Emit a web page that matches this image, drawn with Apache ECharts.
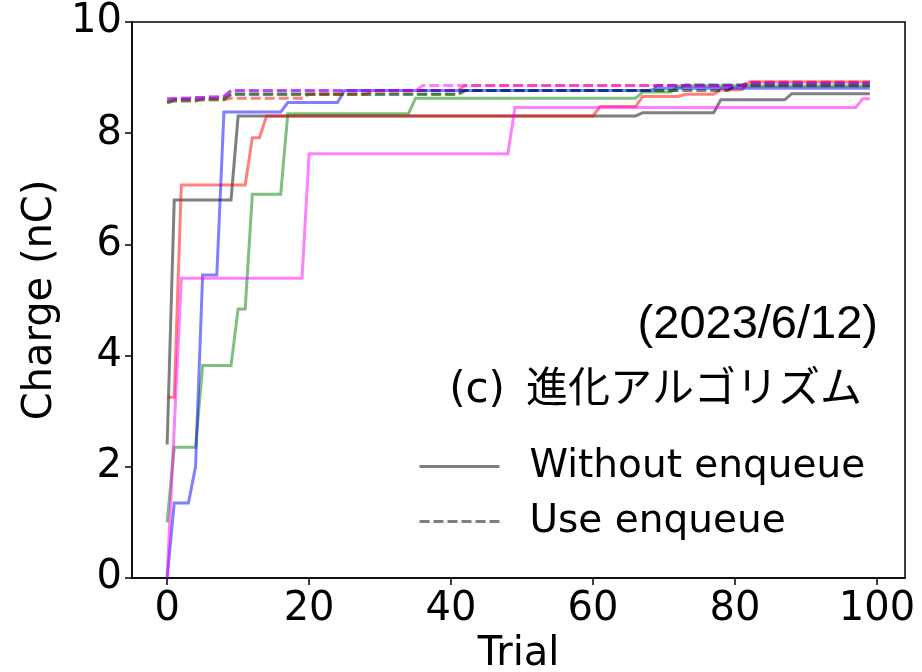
<!DOCTYPE html>
<html>
<head>
<meta charset="utf-8">
<script src="https://cdn.jsdelivr.net/npm/echarts@6/dist/echarts.min.js"></script>
<style>html,body{margin:0;padding:0;background:#fff}#c{width:922px;height:672px}</style>
</head>
<body>
<div id="c"></div>
<script>
// x tick labels and y range
const xTicks = [0, 20, 40, 60, 80, 100];
const legendNames = ['Without enqueue', 'Use enqueue'];

// Solid lines (Without enqueue), one value per trial 0..99
const graySolid = [
  2.4, 6.8, 6.8, 6.8, 6.8, 6.8, 6.8, 6.8, 6.8, 6.8,
  8.31, 8.31, 8.31, 8.31, 8.31, 8.31, 8.31, 8.31, 8.31, 8.31,
  8.31, 8.31, 8.31, 8.31, 8.31, 8.31, 8.31, 8.31, 8.31, 8.31,
  8.31, 8.31, 8.31, 8.31, 8.31, 8.31, 8.31, 8.31, 8.31, 8.31,
  8.31, 8.31, 8.31, 8.31, 8.31, 8.31, 8.31, 8.31, 8.31, 8.31,
  8.31, 8.31, 8.31, 8.31, 8.31, 8.31, 8.31, 8.31, 8.31, 8.31,
  8.31, 8.31, 8.31, 8.31, 8.31, 8.31, 8.31, 8.37, 8.37, 8.37,
  8.37, 8.37, 8.37, 8.37, 8.37, 8.37, 8.37, 8.37, 8.6, 8.6,
  8.6, 8.6, 8.6, 8.6, 8.6, 8.6, 8.6, 8.6, 8.71, 8.71,
  8.71, 8.71, 8.71, 8.71, 8.71, 8.71, 8.71, 8.71, 8.71, 8.71
];
const redSolid = [
  3.25, 3.25, 7.07, 7.07, 7.07, 7.07, 7.07, 7.07, 7.07, 7.07,
  7.07, 7.07, 7.92, 7.92, 8.31, 8.31, 8.31, 8.31, 8.31, 8.31,
  8.31, 8.31, 8.31, 8.31, 8.31, 8.31, 8.31, 8.31, 8.31, 8.31,
  8.31, 8.31, 8.31, 8.31, 8.31, 8.31, 8.31, 8.31, 8.31, 8.31,
  8.31, 8.31, 8.31, 8.31, 8.31, 8.31, 8.31, 8.31, 8.31, 8.31,
  8.31, 8.31, 8.31, 8.31, 8.31, 8.31, 8.31, 8.31, 8.31, 8.31,
  8.31, 8.48, 8.48, 8.48, 8.48, 8.48, 8.48, 8.66, 8.66, 8.66,
  8.66, 8.66, 8.66, 8.70, 8.70, 8.70, 8.70, 8.70, 8.78, 8.78,
  8.78, 8.78, 8.92, 8.92, 8.92, 8.92, 8.92, 8.92, 8.92, 8.92,
  8.92, 8.92, 8.92, 8.92, 8.92, 8.92, 8.92, 8.92, 8.92, 8.92
];
const blueSolid = [
  0, 1.35, 1.35, 1.35, 2.0, 5.45, 5.45, 5.45, 8.38, 8.38,
  8.38, 8.38, 8.38, 8.38, 8.38, 8.38, 8.38, 8.55, 8.55, 8.55,
  8.55, 8.55, 8.55, 8.55, 8.55, 8.77, 8.77, 8.77, 8.77, 8.77,
  8.77, 8.77, 8.77, 8.77, 8.77, 8.77, 8.77, 8.77, 8.77, 8.77,
  8.77, 8.77, 8.77, 8.77, 8.77, 8.77, 8.77, 8.77, 8.77, 8.77,
  8.77, 8.77, 8.77, 8.77, 8.77, 8.77, 8.77, 8.77, 8.77, 8.77,
  8.77, 8.77, 8.77, 8.77, 8.77, 8.77, 8.77, 8.77, 8.77, 8.81,
  8.81, 8.81, 8.81, 8.81, 8.81, 8.81, 8.81, 8.81, 8.81, 8.81,
  8.81, 8.81, 8.81, 8.81, 8.81, 8.81, 8.81, 8.81, 8.81, 8.81,
  8.81, 8.81, 8.81, 8.81, 8.81, 8.81, 8.81, 8.81, 8.81, 8.81
];
const greenSolid = [
  1.0, 2.35, 2.35, 2.35, 2.35, 3.82, 3.82, 3.82, 3.82, 3.82,
  4.84, 4.84, 6.9, 6.9, 6.9, 6.9, 6.9, 8.35, 8.35, 8.35,
  8.35, 8.35, 8.35, 8.35, 8.35, 8.35, 8.35, 8.35, 8.35, 8.35,
  8.35, 8.35, 8.35, 8.35, 8.35, 8.63, 8.63, 8.63, 8.63, 8.63,
  8.63, 8.63, 8.63, 8.63, 8.63, 8.63, 8.63, 8.63, 8.63, 8.63,
  8.63, 8.63, 8.63, 8.63, 8.63, 8.63, 8.63, 8.63, 8.63, 8.63,
  8.63, 8.63, 8.63, 8.63, 8.63, 8.63, 8.63, 8.74, 8.74, 8.74,
  8.74, 8.74, 8.85, 8.85, 8.85, 8.85, 8.85, 8.85, 8.85, 8.85,
  8.85, 8.85, 8.85, 8.85, 8.85, 8.85, 8.85, 8.85, 8.85, 8.85,
  8.85, 8.85, 8.85, 8.85, 8.85, 8.85, 8.85, 8.85, 8.85, 8.85
];
const pinkSolid = [
  0, 2.7, 5.39, 5.39, 5.39, 5.39, 5.39, 5.39, 5.39, 5.39,
  5.39, 5.39, 5.39, 5.39, 5.39, 5.39, 5.39, 5.39, 5.39, 5.39,
  7.63, 7.63, 7.63, 7.63, 7.63, 7.63, 7.63, 7.63, 7.63, 7.63,
  7.63, 7.63, 7.63, 7.63, 7.63, 7.63, 7.63, 7.63, 7.63, 7.63,
  7.63, 7.63, 7.63, 7.63, 7.63, 7.63, 7.63, 7.63, 7.63, 8.46,
  8.46, 8.46, 8.46, 8.46, 8.46, 8.46, 8.46, 8.46, 8.46, 8.46,
  8.46, 8.46, 8.46, 8.46, 8.46, 8.46, 8.46, 8.46, 8.46, 8.46,
  8.46, 8.46, 8.46, 8.46, 8.46, 8.46, 8.46, 8.46, 8.46, 8.46,
  8.46, 8.46, 8.46, 8.46, 8.46, 8.46, 8.46, 8.46, 8.46, 8.46,
  8.46, 8.46, 8.46, 8.46, 8.46, 8.46, 8.46, 8.46, 8.62, 8.62
];

// Dashed lines (Use enqueue)
const grayDashed = [
  8.55, 8.58, 8.58, 8.58, 8.58, 8.62, 8.62, 8.62, 8.62, 8.70,
  8.70, 8.70, 8.70, 8.70, 8.70, 8.70, 8.70, 8.70, 8.70, 8.70,
  8.70, 8.70, 8.70, 8.70, 8.70, 8.70, 8.70, 8.70, 8.70, 8.70,
  8.70, 8.70, 8.70, 8.70, 8.70, 8.70, 8.70, 8.70, 8.70, 8.70,
  8.70, 8.70, 8.77, 8.77, 8.77, 8.77, 8.77, 8.77, 8.77, 8.77,
  8.77, 8.77, 8.77, 8.77, 8.77, 8.77, 8.77, 8.77, 8.77, 8.77,
  8.77, 8.77, 8.77, 8.77, 8.77, 8.77, 8.77, 8.77, 8.77, 8.77,
  8.77, 8.77, 8.77, 8.77, 8.77, 8.77, 8.77, 8.77, 8.77, 8.77,
  8.86, 8.86, 8.86, 8.86, 8.86, 8.86, 8.86, 8.86, 8.86, 8.86,
  8.86, 8.86, 8.86, 8.86, 8.86, 8.86, 8.86, 8.86, 8.86, 8.86
];
const greenDashed = [
  8.55, 8.6, 8.6, 8.6, 8.6, 8.6, 8.6, 8.6, 8.6, 8.70,
  8.70, 8.70, 8.70, 8.70, 8.70, 8.70, 8.70, 8.70, 8.70, 8.70,
  8.70, 8.70, 8.70, 8.70, 8.70, 8.70, 8.70, 8.70, 8.70, 8.70,
  8.70, 8.70, 8.70, 8.70, 8.70, 8.70, 8.70, 8.70, 8.70, 8.70,
  8.70, 8.70, 8.77, 8.77, 8.77, 8.77, 8.77, 8.77, 8.77, 8.77,
  8.77, 8.77, 8.77, 8.77, 8.77, 8.77, 8.77, 8.77, 8.77, 8.77,
  8.77, 8.77, 8.77, 8.77, 8.77, 8.77, 8.77, 8.77, 8.77, 8.77,
  8.77, 8.77, 8.77, 8.87, 8.87, 8.87, 8.87, 8.87, 8.87, 8.87,
  8.87, 8.87, 8.87, 8.87, 8.87, 8.87, 8.87, 8.87, 8.87, 8.87,
  8.87, 8.87, 8.87, 8.87, 8.87, 8.87, 8.87, 8.87, 8.87, 8.87
];
const blueDashed = [
  8.62, 8.62, 8.63, 8.63, 8.64, 8.64, 8.65, 8.65, 8.66, 8.77,
  8.77, 8.77, 8.77, 8.77, 8.77, 8.77, 8.77, 8.77, 8.77, 8.77,
  8.77, 8.77, 8.77, 8.77, 8.77, 8.77, 8.77, 8.77, 8.77, 8.77,
  8.77, 8.77, 8.77, 8.77, 8.77, 8.77, 8.77, 8.77, 8.77, 8.77,
  8.77, 8.77, 8.77, 8.77, 8.77, 8.77, 8.77, 8.77, 8.77, 8.77,
  8.77, 8.77, 8.77, 8.77, 8.77, 8.77, 8.77, 8.77, 8.77, 8.77,
  8.77, 8.77, 8.77, 8.77, 8.77, 8.77, 8.77, 8.77, 8.77, 8.86,
  8.86, 8.86, 8.86, 8.86, 8.86, 8.86, 8.86, 8.86, 8.86, 8.86,
  8.86, 8.86, 8.90, 8.90, 8.90, 8.90, 8.90, 8.90, 8.90, 8.90,
  8.90, 8.90, 8.90, 8.90, 8.90, 8.90, 8.90, 8.90, 8.90, 8.90
];
const pinkDashed = [
  8.62, 8.62, 8.63, 8.63, 8.64, 8.64, 8.65, 8.65, 8.66, 8.76,
  8.76, 8.76, 8.76, 8.76, 8.76, 8.76, 8.76, 8.76, 8.76, 8.76,
  8.76, 8.76, 8.76, 8.76, 8.76, 8.76, 8.76, 8.76, 8.76, 8.76,
  8.76, 8.76, 8.76, 8.76, 8.76, 8.76, 8.86, 8.86, 8.86, 8.86,
  8.86, 8.86, 8.86, 8.86, 8.86, 8.86, 8.86, 8.86, 8.86, 8.86,
  8.86, 8.86, 8.86, 8.86, 8.86, 8.86, 8.86, 8.86, 8.86, 8.86,
  8.86, 8.86, 8.86, 8.86, 8.86, 8.86, 8.86, 8.86, 8.86, 8.86,
  8.86, 8.86, 8.86, 8.86, 8.86, 8.86, 8.86, 8.86, 8.86, 8.86,
  8.86, 8.86, 8.90, 8.90, 8.90, 8.90, 8.90, 8.90, 8.90, 8.90,
  8.90, 8.90, 8.90, 8.90, 8.90, 8.90, 8.90, 8.90, 8.90, 8.90
];
const redDashed = [
  8.57, 8.6, 8.6, 8.6, 8.6, 8.6, 8.6, 8.6, 8.6, 8.63,
  8.63, 8.63, 8.63, 8.63, 8.63, 8.63, 8.63, 8.63, 8.63, 8.63,
  8.70, 8.70, 8.70, 8.70, 8.70, 8.70, 8.70, 8.70, 8.70, 8.77,
  8.77, 8.77, 8.77, 8.77, 8.77, 8.77, 8.77, 8.77, 8.77, 8.77,
  8.77, 8.77, 8.86, 8.86, 8.86, 8.86, 8.86, 8.86, 8.86, 8.86,
  8.86, 8.86, 8.86, 8.86, 8.86, 8.86, 8.86, 8.86, 8.86, 8.86,
  8.86, 8.86, 8.86, 8.86, 8.86, 8.86, 8.86, 8.86, 8.86, 8.86,
  8.86, 8.86, 8.86, 8.86, 8.86, 8.86, 8.86, 8.86, 8.86, 8.86,
  8.86, 8.86, 8.92, 8.92, 8.92, 8.92, 8.92, 8.92, 8.92, 8.92,
  8.92, 8.92, 8.92, 8.92, 8.92, 8.92, 8.92, 8.92, 8.92, 8.92
];

const trials = graySolid.map((_, i) => i);
const pairs = arr => arr.map((v, i) => [trials[i], v]);

const FONT = "'DejaVu Sans', sans-serif";
const FS = 40;
const DASH = [10, 4];

function mk(name, color, arr, dashed) {
  return {
    name: name,
    type: 'line',
    data: pairs(arr),
    symbol: 'none',
    silent: true,
    animation: false,
    lineStyle: { color: color, width: 3, opacity: 0.5, type: dashed ? DASH : 'solid', cap: 'butt', join: 'miter' },
    itemStyle: { color: color, opacity: 0.5 }
  };
}

const chart = echarts.init(document.getElementById('c'), null, { renderer: 'canvas' });
chart.setOption({
  animation: false,
  backgroundColor: '#ffffff',
  grid: { left: 132, right: 17, top: 22, bottom: 94, show: true, borderColor: '#000', borderWidth: 1.5, backgroundColor: 'transparent', containLabel: false, outerBoundsMode: 'none' },
  xAxis: {
    type: 'value', min: -4.95, max: 103.95,
    name: 'Trial', nameLocation: 'middle', nameGap: 57,
    nameTextStyle: { fontFamily: FONT, fontSize: FS, color: '#000' },
    axisLine: { show: true, onZero: false, lineStyle: { color: '#000', width: 1.5 } },
    axisTick: { show: true, inside: false, length: 7, customValues: xTicks, lineStyle: { color: '#000', width: 1.5 } },
    axisLabel: { customValues: xTicks, margin: 12, fontFamily: FONT, fontSize: FS, color: '#000' },
    splitLine: { show: false }
  },
  yAxis: {
    type: 'value', min: 0, max: 10, interval: 2,
    name: 'Charge (nC)', nameLocation: 'middle', nameGap: 58, nameRotate: 90,
    nameTextStyle: { fontFamily: FONT, fontSize: FS, color: '#000' },
    axisLine: { show: true, onZero: false, lineStyle: { color: '#000', width: 1.5 } },
    axisTick: { show: true, inside: false, length: 7, lineStyle: { color: '#000', width: 1.5 } },
    axisLabel: { margin: 10, fontFamily: FONT, fontSize: FS, color: '#000' },
    splitLine: { show: false }
  },
  legend: {
    data: legendNames,
    orient: 'vertical',
    left: 418, top: 447, padding: 0,
    itemWidth: 80, itemHeight: 6, itemGap: 16,
    itemStyle: { opacity: 0 },
    lineStyle: { width: 3 },
    textStyle: { fontFamily: FONT, fontSize: 39, color: '#000', padding: [0, 0, 0, 25] },
    selectedMode: false
  },
  graphic: [
    { type: 'text', right: 44, top: 302, style: { text: '(2023/6/12)', font: "47px 'Liberation Sans', Arial, sans-serif", fill: '#000' } },
    { type: 'text', right: 60, top: 370, style: { text: '(c)\u2002進化アルゴリズム', font: "42px 'DejaVu Sans', 'Noto Sans CJK JP', sans-serif", fill: '#000' } }
  ],
  series: [
    mk('Without enqueue', '#000000', graySolid, false),
    mk('red solid', '#ff0000', redSolid, false),
    mk('green solid', '#008000', greenSolid, false),
    mk('blue solid', '#0000ff', blueSolid, false),
    mk('magenta solid', '#ff00ff', pinkSolid, false),
    mk('Use enqueue', '#000000', grayDashed, true),
    mk('red dashed', '#ff0000', redDashed, true),
    mk('green dashed', '#008000', greenDashed, true),
    mk('blue dashed', '#0000ff', blueDashed, true),
    mk('magenta dashed', '#ff00ff', pinkDashed, true)
  ]
});
</script>
</body>
</html>
